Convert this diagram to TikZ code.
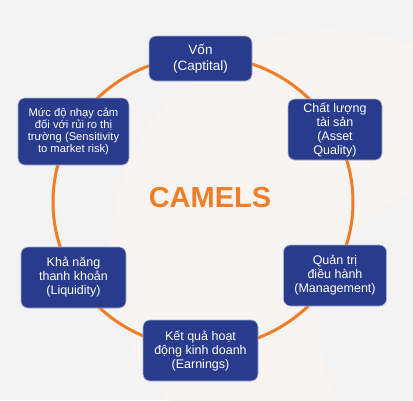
\documentclass[tikz,border=0pt]{standalone}
\usepackage{fontspec}
\setmainfont{Liberation Sans}
\definecolor{bgc}{HTML}{F3F3F3}
\definecolor{bgw}{HTML}{F7F4F2}
\definecolor{boxc}{HTML}{283B8C}
\definecolor{orc}{HTML}{F07D27}
\begin{document}
\begin{tikzpicture}[x=1pt,y=-1pt,
  item/.style={fill=boxc,draw=white!60!boxc,line width=0.6pt,rounded corners=7pt,
    text=white,align=center,inner sep=2pt,font=\fontsize{12.5}{14}\selectfont},
  ring/.style={draw=orc,line width=3pt}]
\useasboundingbox (0,0) rectangle (413,400);
\fill[bgc] (0,0) rectangle (413,400);
\begin{scope}
\clip (0,0) rectangle (413,400);
\fill[bgw] (330,250) circle (220);
\fill[bgc] (470,330) circle (150);
\end{scope}
\draw[ring] (203,202) ellipse [x radius=150, y radius=146];
\node[item,minimum width=103pt,minimum height=45pt,font=\fontsize{13.5}{16}\selectfont] (von) at (200.5,58.5) {Vốn\\(Captital)};
\node[item,minimum width=94pt,minimum height=61pt] (cl) at (335,129.5) {Chất lượng\\tài sản\\(Asset\\Quality)};
\node[item,minimum width=111pt,minimum height=67pt,font=\fontsize{11.2}{12}\selectfont] (md) at (73.5,131.5) {Mức độ nhạy cảm\\đối với rủi ro thị\\trường (Sensitivity\\to market risk)};
\node[item,minimum width=105pt,minimum height=61pt] (kn) at (73.5,277.5) {Khả năng\\thanh khoản\\(Liquidity)};
\node[item,minimum width=103pt,minimum height=61pt] (qt) at (335,275.5) {Quản trị\\điều hành\\(Management)};
\node[item,minimum width=115pt,minimum height=61pt] (kq) at (200.5,350.5) {Kết quả hoạt\\động kinh doanh\\(Earnings)};
\node[text=orc,font=\fontsize{29}{30}\bfseries\selectfont,inner sep=0pt] (cam) at (210,197.5) {CAMELS};
\end{tikzpicture}
\end{document}
